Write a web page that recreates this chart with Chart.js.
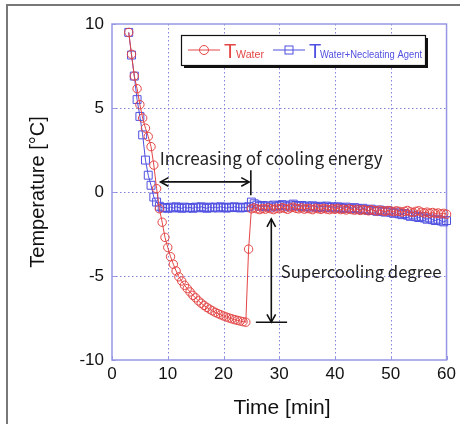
<!DOCTYPE html>
<html>
<head>
<meta charset="utf-8">
<script src="https://cdn.jsdelivr.net/npm/chart.js@4/dist/chart.umd.min.js"></script>
<style>
  html, body { margin: 0; padding: 0; background: #fff; }
  #wrap { width: 460px; height: 424px; position: relative; }
</style>
</head>
<body>
<div id="wrap"><canvas id="c" width="460" height="424"></canvas></div>
<script>
// Sampling times [min]
const timeMin = [
  3, 3.5, 4, 4.5, 5, 5.5, 6, 6.5, 7, 7.5, 8, 8.5, 9, 9.5,
  10, 10.5, 11, 11.5, 12, 12.5, 13, 13.5, 14, 14.5, 15, 15.5, 16, 16.5, 17, 17.5, 18, 18.5, 19, 19.5,
  20, 20.5, 21, 21.5, 22, 22.5, 23, 23.5, 24, 24.5, 25, 25.5, 26, 26.5, 27, 27.5, 28, 28.5, 29, 29.5,
  30, 30.5, 31, 31.5, 32, 32.5, 33, 33.5, 34, 34.5, 35, 35.5, 36, 36.5, 37, 37.5, 38, 38.5, 39, 39.5,
  40, 40.5, 41, 41.5, 42, 42.5, 43, 43.5, 44, 44.5, 45, 45.5, 46, 46.5, 47, 47.5, 48, 48.5, 49, 49.5,
  50, 50.5, 51, 51.5, 52, 52.5, 53, 53.5, 54, 54.5, 55, 55.5, 56, 56.5, 57, 57.5, 58, 58.5, 59, 59.5,
  60
];

// Pure water temperature [°C]
const waterTemp = [
  9.5, 8.2, 6.9, 6.15, 5.2, 4.4, 3.8, 3.3, 2.7, 1.6, 0.2, -1.0, -1.8, -2.7,
  -3.3, -3.85, -4.3, -4.7, -5.05, -5.3, -5.55, -5.75, -5.95, -6.15, -6.3, -6.48, -6.62, -6.75, -6.87, -6.97, -7.07, -7.16, -7.24, -7.31,
  -7.38, -7.44, -7.5, -7.55, -7.6, -7.64, -7.68, -7.72, -7.75, -3.4, -1.0, -0.95, -1.0, -1.05, -0.98, -1.02, -0.95, -1.0, -1.05, -0.97,
  -1.0, -0.93, -0.98, -1.03, -0.95, -0.9, -0.97, -1.0, -0.95, -1.02, -0.98, -1.0, -1.05, -0.97, -1.0, -1.03, -0.98, -1.02, -1.05, -1.0,
  -1.03, -0.98, -1.05, -1.02, -1.07, -1.0, -1.05, -1.08, -1.03, -1.1, -1.05, -1.08, -1.12, -1.05, -1.1, -1.13, -1.08, -1.12, -1.15, -1.1,
  -1.13, -1.17, -1.12, -1.15, -1.2, -1.15, -1.1, -1.18, -1.22, -1.15, -1.12, -1.2, -1.25, -1.2, -1.27, -1.22, -1.28, -1.25, -1.3, -1.27,
  -1.32
];

// Water + nucleating agent temperature [°C]
const agentTemp = [
  9.5, 8.15, 6.9, 5.5, 4.5, 3.4, 1.9, 1.0, 0.4, -0.3, -0.6, -0.85, -0.95, -0.92,
  -0.97, -0.9, -0.95, -0.88, -0.93, -0.97, -0.9, -0.95, -0.92, -0.97, -0.9, -0.94, -0.88, -0.93, -0.97, -0.9, -0.94, -0.9, -0.95, -0.88,
  -0.92, -0.96, -0.9, -0.93, -0.88, -0.92, -0.95, -0.9, -0.93, -0.88, -0.6, -0.7, -0.78, -0.85, -0.8, -0.88, -0.82, -0.9, -0.78, -0.85,
  -0.8, -0.75, -0.82, -0.88, -0.78, -0.72, -0.8, -0.85, -0.8, -0.88, -0.83, -0.9, -0.82, -0.87, -0.92, -0.85, -0.9, -0.84, -0.92, -0.88,
  -0.95, -0.88, -0.93, -0.98, -0.9, -0.96, -1.0, -0.93, -1.0, -1.05, -0.97, -1.05, -1.1, -1.02, -1.1, -1.15, -1.07, -1.15, -1.2, -1.12,
  -1.2, -1.27, -1.2, -1.3, -1.35, -1.28, -1.38, -1.45, -1.37, -1.47, -1.52, -1.45, -1.55, -1.62, -1.55, -1.65, -1.7, -1.62, -1.72, -1.78,
  -1.7
];

const xTicks = [0, 10, 20, 30, 40, 50, 60];
const yTicks = [-10, -5, 0, 5, 10];

const RED = 'rgb(228, 70, 70)';
const BLUE = 'rgb(80, 80, 225)';
const GRID = 'rgba(110, 110, 215, 0.85)';
const FRAME = 'rgb(150, 150, 228)';
const SANS = '"Liberation Sans", Arial, sans-serif';
const TEXTF = '"Noto Sans CJK KR", "Noto Sans", sans-serif';

const pts = (ys) => ys.map((y, i) => ({ x: timeMin[i], y }));

function arrowHead(ctx, x, y, ang, size) {
  ctx.beginPath();
  ctx.moveTo(x + size * Math.cos(ang + 0.5), y + size * Math.sin(ang + 0.5));
  ctx.lineTo(x, y);
  ctx.lineTo(x + size * Math.cos(ang - 0.5), y + size * Math.sin(ang - 0.5));
  ctx.stroke();
}

function doubleArrow(ctx, x1, y1, x2, y2) {
  ctx.beginPath();
  ctx.moveTo(x1, y1);
  ctx.lineTo(x2, y2);
  ctx.stroke();
  const a = Math.atan2(y2 - y1, x2 - x1);
  arrowHead(ctx, x1, y1, a, 9);
  arrowHead(ctx, x2, y2, a + Math.PI, 9);
}

function fitText(ctx, text, family, baseSize, width) {
  ctx.font = baseSize + 'px ' + family;
  const w = ctx.measureText(text).width;
  const s = baseSize * width / w;
  ctx.font = s.toFixed(2) + 'px ' + family;
}

const decor = {
  id: 'decor',
  beforeDraw(chart) {
    const ctx = chart.ctx;
    ctx.save();
    ctx.fillStyle = '#fff';
    ctx.fillRect(0, 0, chart.width, chart.height);
    ctx.strokeStyle = 'rgb(120,120,120)';
    ctx.lineWidth = 2;
    ctx.strokeRect(7, 5, chart.width + 20, chart.height + 20);
    ctx.restore();
  },
  beforeDatasetsDraw(chart) {
    const { ctx, chartArea: a, scales: { x, y } } = chart;
    ctx.save();
    ctx.strokeStyle = GRID;
    ctx.lineWidth = 1;
    ctx.setLineDash([1.5, 2.5]);
    xTicks.slice(1, -1).forEach(v => {
      const px = Math.round(x.getPixelForValue(v)) + 0.5;
      ctx.beginPath(); ctx.moveTo(px, a.top); ctx.lineTo(px, a.bottom); ctx.stroke();
    });
    yTicks.slice(1, -1).forEach(v => {
      const py = Math.round(y.getPixelForValue(v)) + 0.5;
      ctx.beginPath(); ctx.moveTo(a.left, py); ctx.lineTo(a.right, py); ctx.stroke();
    });
    ctx.setLineDash([]);
    // short inner tick marks
    ctx.strokeStyle = FRAME;
    xTicks.forEach(v => {
      const px = Math.round(x.getPixelForValue(v)) + 0.5;
      ctx.beginPath(); ctx.moveTo(px, a.bottom); ctx.lineTo(px, a.bottom - 4); ctx.stroke();
    });
    yTicks.forEach(v => {
      const py = Math.round(y.getPixelForValue(v)) + 0.5;
      ctx.beginPath(); ctx.moveTo(a.left, py); ctx.lineTo(a.left + 4, py); ctx.stroke();
    });
    ctx.lineWidth = 1.5;
    ctx.strokeRect(a.left, a.top, a.right - a.left, a.bottom - a.top);
    ctx.restore();
  },
  afterDatasetsDraw(chart) {
    const { ctx, scales: { x, y } } = chart;
    ctx.save();

    // axis titles
    ctx.fillStyle = '#111';
    ctx.textAlign = 'center';
    ctx.textBaseline = 'middle';
    ctx.font = '21px ' + SANS;
    ctx.fillText('Time [min]', 282, 408);
    ctx.save();
    ctx.translate(38, 192);
    ctx.rotate(-Math.PI / 2);
    ctx.font = '20px ' + SANS;
    ctx.fillText('Temperature [°C]', 0, 0);
    ctx.restore();

    // cooling-energy span annotation
    ctx.strokeStyle = '#111';
    ctx.lineWidth = 1.6;
    const hy = y.getPixelForValue(0.6);
    doubleArrow(ctx, x.getPixelForValue(8.7), hy, x.getPixelForValue(24.6), hy);
    const bx = x.getPixelForValue(24.9);
    ctx.beginPath();
    ctx.moveTo(bx, y.getPixelForValue(1.3));
    ctx.lineTo(bx, y.getPixelForValue(-0.2));
    ctx.stroke();

    ctx.fillStyle = '#222';
    ctx.textAlign = 'left';
    ctx.textBaseline = 'middle';
    fitText(ctx, 'Increasing of cooling energy', TEXTF, 16, 223);
    ctx.fillText('Increasing of cooling energy', x.getPixelForValue(8.55), y.getPixelForValue(2.0));

    // supercooling degree annotation
    const vx = x.getPixelForValue(28.57);
    doubleArrow(ctx, vx, y.getPixelForValue(-1.6), vx, y.getPixelForValue(-7.75));
    const by = y.getPixelForValue(-7.75);
    ctx.beginPath();
    ctx.moveTo(x.getPixelForValue(25.8), by);
    ctx.lineTo(x.getPixelForValue(31.4), by);
    ctx.stroke();
    fitText(ctx, 'Supercooling degree', TEXTF, 16, 161);
    ctx.fillText('Supercooling degree', x.getPixelForValue(30.25), y.getPixelForValue(-4.74));

    // legend box
    const L = 181, T = 35, W = 244, H = 30;
    ctx.fillStyle = '#111';
    ctx.fillRect(L + 3, T + 3, W, H);
    ctx.fillStyle = '#fff';
    ctx.fillRect(L, T, W, H);
    ctx.strokeStyle = '#111';
    ctx.lineWidth = 1.2;
    ctx.strokeRect(L + 0.5, T + 0.5, W, H);
    const ly = T + 15;

    ctx.lineWidth = 1;
    ctx.strokeStyle = RED;
    ctx.beginPath(); ctx.moveTo(188, ly); ctx.lineTo(220, ly); ctx.stroke();
    ctx.beginPath(); ctx.arc(204, ly, 4.5, 0, Math.PI * 2); ctx.stroke();
    ctx.fillStyle = RED;
    ctx.textBaseline = 'alphabetic';
    ctx.font = '20px ' + SANS;
    ctx.fillText('T', 224, ly + 8);
    ctx.font = '11px ' + SANS;
    ctx.fillText('Water', 236, ly + 8, 28);

    ctx.strokeStyle = BLUE;
    ctx.beginPath(); ctx.moveTo(273, ly); ctx.lineTo(305, ly); ctx.stroke();
    ctx.strokeRect(285, ly - 4, 8, 8);
    ctx.fillStyle = BLUE;
    ctx.font = '20px ' + SANS;
    ctx.fillText('T', 309, ly + 8);
    ctx.font = '11px ' + SANS;
    ctx.fillText('Water+Necleating Agent', 320, ly + 8, 102);

    ctx.restore();
  }
};

new Chart(document.getElementById('c'), {
  type: 'line',
  data: {
    datasets: [
      {
        label: 'T Water',
        data: pts(waterTemp),
        borderColor: RED,
        borderWidth: 1,
        pointStyle: 'circle',
        pointRadius: 4.2,
        pointBorderWidth: 1,
        pointBorderColor: RED,
        pointBackgroundColor: 'rgba(0,0,0,0)',
        tension: 0,
        clip: false
      },
      {
        label: 'T Water+Necleating Agent',
        data: pts(agentTemp),
        borderColor: BLUE,
        borderWidth: 1,
        pointStyle: 'rect',
        pointRadius: 5.6,
        pointBorderWidth: 1,
        pointBorderColor: BLUE,
        pointBackgroundColor: 'rgba(0,0,0,0)',
        tension: 0,
        clip: false
      }
    ]
  },
  options: {
    responsive: false,
    animation: false,
    events: [],
    layout: { padding: { left: 0, right: 11, top: 24, bottom: 0 } },
    plugins: { legend: { display: false }, tooltip: { enabled: false } },
    scales: {
      x: {
        type: 'linear',
        min: 0, max: 60,
        afterFit: s => { s.height = 64; },
        afterBuildTicks: s => { s.ticks = xTicks.map(v => ({ value: v })); },
        grid: { display: false, drawTicks: false },
        border: { display: false },
        ticks: { color: '#111', padding: 4, font: { family: SANS, size: 17 }, maxRotation: 0 }
      },
      y: {
        type: 'linear',
        min: -10, max: 10,
        afterFit: s => { s.width = 112; },
        afterBuildTicks: s => { s.ticks = yTicks.map(v => ({ value: v })); },
        grid: { display: false, drawTicks: false },
        border: { display: false },
        ticks: { color: '#111', padding: 8, font: { family: SANS, size: 17 } }
      }
    }
  },
  plugins: [decor]
});
</script>
</body>
</html>
